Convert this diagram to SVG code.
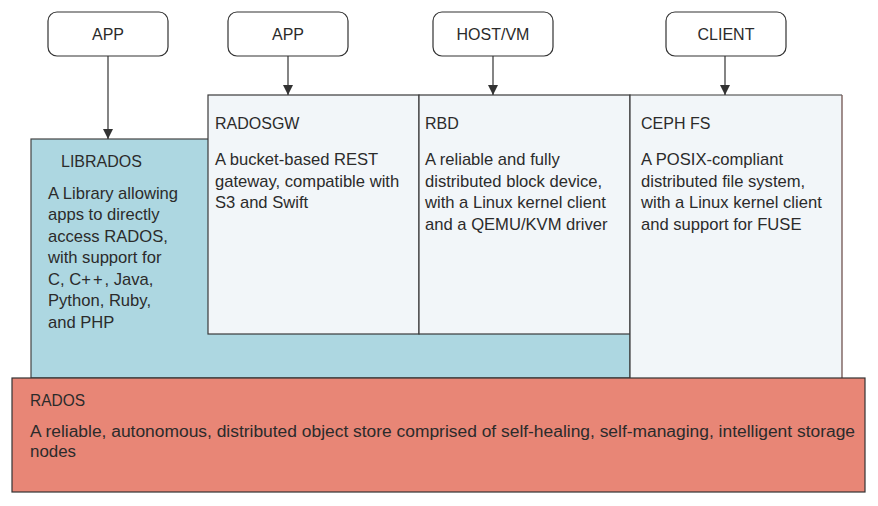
<svg xmlns="http://www.w3.org/2000/svg" width="878" height="506" viewBox="0 0 878 506">
<style>
text{font-family:"Liberation Sans",Arial,sans-serif;fill:#2b2b2b}
.lbl{font-size:16px;text-anchor:middle}
.t{font-size:16px}
.b{font-size:16.6px}
.top{fill:#fff;stroke:#333;stroke-width:1.2}
.pane{fill:#f2f6f9;stroke:#3a3a3a;stroke-width:1.2}
.conn{stroke:#333;stroke-width:1.2;fill:none}
</style>
<defs>
<marker id="ah" viewBox="0 0 10 10" refX="10" refY="5" markerWidth="10" markerHeight="10" markerUnits="userSpaceOnUse" orient="auto">
<path d="M0,0 L10,5 L0,10 z" fill="#333"/>
</marker>
</defs>
<rect width="878" height="506" fill="#fff"/>
<g id="librados">
<rect x="31" y="139" width="599" height="239" fill="#add7e1" stroke="#444" stroke-width="1.2"/>
<text class="t" x="61" y="167">LIBRADOS</text>
<text class="b" x="48" y="199">A Library allowing</text>
<text class="b" x="48" y="220">apps to directly</text>
<text class="b" x="48" y="242">access RADOS,</text>
<text class="b" x="48" y="263">with support for</text>
<text class="b" x="48" y="285">C, C<tspan letter-spacing="2">++</tspan>, Java,</text>
<text class="b" x="48" y="306">Python, Ruby,</text>
<text class="b" x="48" y="328">and PHP</text>
</g>
<g id="radosgw">
<rect class="pane" x="208" y="95" width="211" height="239"/>
<text class="t" x="215" y="129">RADOSGW</text>
<text class="b" x="215" y="165">A bucket-based REST</text>
<text class="b" x="215" y="187">gateway, compatible with</text>
<text class="b" x="215" y="208">S3 and Swift</text>
</g>
<g id="rbd">
<rect class="pane" x="419" y="95" width="211" height="239"/>
<text class="t" x="425" y="129">RBD</text>
<text class="b" x="425" y="165">A reliable and fully</text>
<text class="b" x="425" y="187">distributed block device,</text>
<text class="b" x="425" y="208">with a Linux kernel client</text>
<text class="b" x="425" y="230">and a QEMU/KVM driver</text>
</g>
<g id="cephfs">
<rect x="630" y="95" width="212" height="283" fill="#f2f6f9"/>
<path d="M630,378 V95 H842" fill="none" stroke="#3a3a3a" stroke-width="1.2"/>
<path d="M842,95 V378" fill="none" stroke="#7a5f5c" stroke-width="1.4"/>
<text class="t" x="641" y="129">CEPH FS</text>
<text class="b" x="641" y="165">A POSIX-compliant</text>
<text class="b" x="641" y="187">distributed file system,</text>
<text class="b" x="641" y="208">with a Linux kernel client</text>
<text class="b" x="641" y="230">and support for FUSE</text>
</g>
<g id="rados">
<rect x="12" y="378" width="853" height="114" fill="#e88676" stroke="#333" stroke-width="1.2"/>
<text x="30" y="406" font-size="16" textLength="55" lengthAdjust="spacingAndGlyphs">RADOS</text>
<text x="30" y="437" font-size="16" textLength="825" lengthAdjust="spacingAndGlyphs">A reliable, autonomous, distributed object store comprised of self-healing, self-managing, intelligent storage</text>
<text x="30" y="457" font-size="16" textLength="46" lengthAdjust="spacingAndGlyphs">nodes</text>
</g>
<g id="app1">
<rect class="top" x="48" y="12" width="120" height="44" rx="9"/>
<text class="lbl" x="108" y="40">APP</text>
</g>
<g id="app2">
<rect class="top" x="228" y="12" width="120" height="44" rx="9"/>
<text class="lbl" x="288" y="40">APP</text>
</g>
<g id="hostvm">
<rect class="top" x="433" y="12" width="120" height="44" rx="9"/>
<text class="lbl" x="493" y="40">HOST/VM</text>
</g>
<g id="client">
<rect class="top" x="666" y="12" width="120" height="44" rx="9"/>
<text class="lbl" x="726" y="40">CLIENT</text>
</g>
<g id="connectors">
<line class="conn" x1="108" y1="56" x2="108" y2="139" marker-end="url(#ah)"/>
<line class="conn" x1="288" y1="56" x2="288" y2="95" marker-end="url(#ah)"/>
<line class="conn" x1="493" y1="56" x2="493" y2="95" marker-end="url(#ah)"/>
<line class="conn" x1="725" y1="56" x2="725" y2="95" marker-end="url(#ah)"/>
</g>
</svg>
